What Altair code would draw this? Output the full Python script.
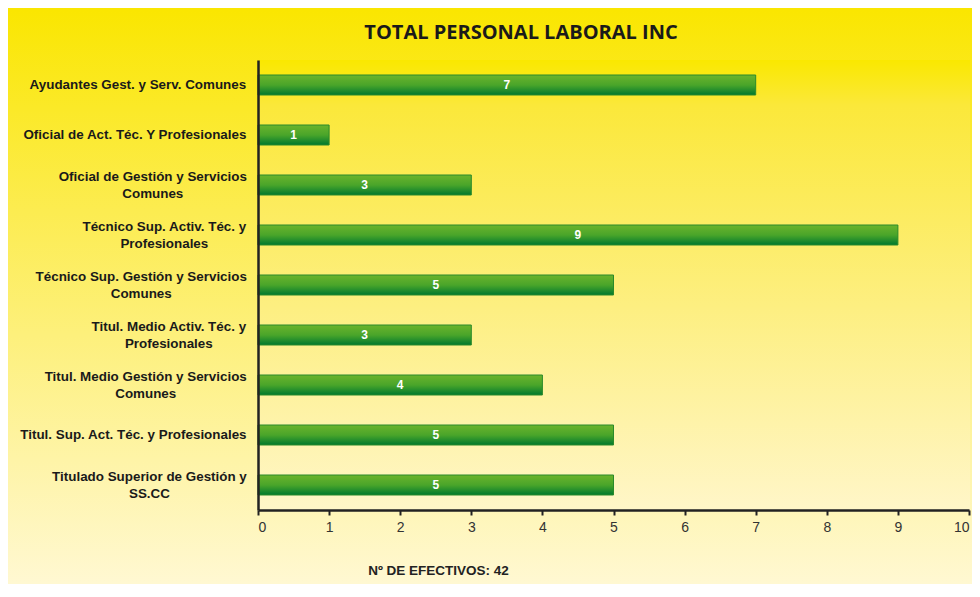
import altair as alt
import pandas as pd

# ---------------- data ----------------
title_text = "TOTAL PERSONAL LABORAL INC"
categories = [
    "Ayudantes Gest. y Serv. Comunes",
    "Oficial de Act. Téc. Y Profesionales",
    "Oficial de Gestión y Servicios\nComunes",
    "Técnico Sup. Activ. Téc. y\nProfesionales",
    "Técnico Sup. Gestión y Servicios\nComunes",
    "Titul. Medio Activ. Téc. y\nProfesionales",
    "Titul. Medio Gestión y Servicios\nComunes",
    "Titul. Sup. Act. Téc. y Profesionales",
    "Titulado Superior de Gestión y\nSS.CC",
]
values = [7, 1, 3, 9, 5, 3, 4, 5, 5]
x_ticks = [0, 1, 2, 3, 4, 5, 6, 7, 8, 9, 10]
footer_prefix = "Nº DE EFECTIVOS: "

# ---------------- layout ----------------
W, H = 711, 450
PAD_L, PAD_T, PAD_R, PAD_B = 250, 52, 3, 74
LABEL_SIZE = 13.4
LABEL_GAP = 11
LINE_H = 17

# Arial/Liberation Sans Bold advance widths (per 1000 em) for centring the wrapped labels
AB = {
    "a": 556, "b": 611, "c": 556, "d": 611, "e": 556, "f": 333, "g": 611, "h": 611,
    "i": 278, "j": 278, "k": 556, "l": 278, "m": 889, "n": 611, "o": 611, "p": 611,
    "q": 611, "r": 389, "s": 556, "t": 333, "u": 611, "v": 556, "w": 778, "x": 556,
    "y": 556, "z": 500,
    "A": 722, "B": 722, "C": 722, "D": 722, "E": 667, "F": 611, "G": 778, "H": 722,
    "I": 278, "J": 556, "K": 722, "L": 611, "M": 833, "N": 722, "O": 778, "P": 667,
    "Q": 778, "R": 722, "S": 667, "T": 611, "U": 722, "V": 667, "W": 944, "X": 667,
    "Y": 667, "Z": 611, " ": 278, ".": 278, ",": 278, "é": 556, "ó": 611, "á": 556,
    "í": 278, "ú": 611,
}


def text_width(s, size):
    return sum(AB.get(ch, 556) for ch in s) * size / 1000.0


df = pd.DataFrame({"cat": categories, "value": values})
df["lx"] = [
    -LABEL_GAP - max(text_width(line, LABEL_SIZE) for line in c.split("\n")) / 2.0
    for c in categories
]
df["nlines"] = [len(c.split("\n")) for c in categories]
total = int(sum(values))
one = pd.DataFrame({"k": [0]})

y_enc = alt.Y(
    "cat:N",
    sort=categories,
    scale=alt.Scale(paddingInner=0.6, paddingOuter=0.3),
    axis=alt.Axis(labels=False, ticks=False, title=None, domainColor="#222222",
                  domainWidth=2.5, zindex=1),
)
y_plain = alt.Y("cat:N", sort=categories)

outer_grad = alt.LinearGradient(
    gradient="linear", x1=0, x2=0, y1=0, y2=1,
    stops=[alt.GradientStop(color="#FAE600", offset=0),
           alt.GradientStop(color="#FCEC50", offset=0.35),
           alt.GradientStop(color="#FFF8D2", offset=1)],
)
plot_grad = alt.LinearGradient(
    gradient="linear", x1=0, x2=0, y1=0, y2=1,
    stops=[alt.GradientStop(color="#FAE800", offset=0),
           alt.GradientStop(color="#FBE83A", offset=0.1),
           alt.GradientStop(color="#FFF6C8", offset=1)],
)
bar_grad = alt.LinearGradient(
    gradient="linear", x1=0, x2=0, y1=0, y2=1,
    stops=[alt.GradientStop(color="#6BB42C", offset=0),
           alt.GradientStop(color="#4AA52A", offset=0.5),
           alt.GradientStop(color="#00782E", offset=1)],
)

outer_bg = alt.Chart(one).mark_rect(fill=outer_grad).encode(
    x=alt.value(-PAD_L), x2=alt.value(W + PAD_R),
    y=alt.value(-PAD_T), y2=alt.value(H + PAD_B),
)
plot_bg = alt.Chart(one).mark_rect(fill=plot_grad).encode(
    x=alt.value(0), x2=alt.value(W + 1),
    y=alt.value(0), y2=alt.value(H),
)

bars = alt.Chart(df).mark_bar(fill=bar_grad, stroke="#2A8A2A", strokeWidth=1).encode(
    x=alt.X(
        "value:Q",
        scale=alt.Scale(domain=[0, 10], nice=False, zero=True),
        axis=alt.Axis(
            values=x_ticks, grid=False, domainColor="#222222", domainWidth=2.5,
            tickColor="#222222", tickWidth=2, tickSize=5,
            labelFont="Liberation Sans Narrow, Arial Narrow, Liberation Sans, sans-serif",
            labelFontSize=14, labelColor="#333333", labelPadding=5,
            title=footer_prefix + str(total),
            titleFont="Liberation Sans, Arial, sans-serif", titleFontSize=13.5,
            titleFontWeight="bold", titleColor="#222222",
            titleX=180, titleY=60, titleAlign="center", titleBaseline="middle",
            zindex=1,
        ),
    ),
    y=y_enc,
)

bar_labels = alt.Chart(df).transform_calculate(mid="datum.value / 2").mark_text(
    color="white", font="Liberation Sans, Arial, sans-serif", fontWeight="bold",
    fontSize=12, baseline="middle", align="center",
).encode(
    x=alt.X("mid:Q", scale=alt.Scale(domain=[0, 10], nice=False), axis=None),
    y=y_plain,
    text="value:Q",
)


def label_layer(n):
    return alt.Chart(df).transform_filter(f"datum.nlines == {n}").mark_text(
        align="center", baseline="middle", lineBreak="\n", lineHeight=LINE_H,
        dy=-(n - 1) * LINE_H / 2.0,
        font="Liberation Sans, Arial, sans-serif", fontWeight="bold",
        fontSize=LABEL_SIZE, color="#1A1A1A",
    ).encode(
        x=alt.X("lx:Q", scale=None, axis=None),
        y=y_plain,
        text="cat:N",
    )


title = alt.Chart(one).mark_text(
    text=title_text, font="Open Sans, Noto Sans, sans-serif", fontWeight="bold",
    fontSize=20, color="#1A1A1A", align="center", baseline="middle",
).encode(x=alt.value(263), y=alt.value(-27))

chart = (
    alt.layer(outer_bg, plot_bg, bars, bar_labels, label_layer(1), label_layer(2), title)
    .resolve_scale(x="independent")
    .properties(
        width=W, height=H,
        padding={"left": PAD_L, "top": PAD_T, "right": PAD_R, "bottom": PAD_B},
        autosize=alt.AutoSizeParams(type="none"),
    )
    .configure_view(stroke=None)
)

chart.save("out.html", embed_options={"renderer": "svg", "actions": False})
